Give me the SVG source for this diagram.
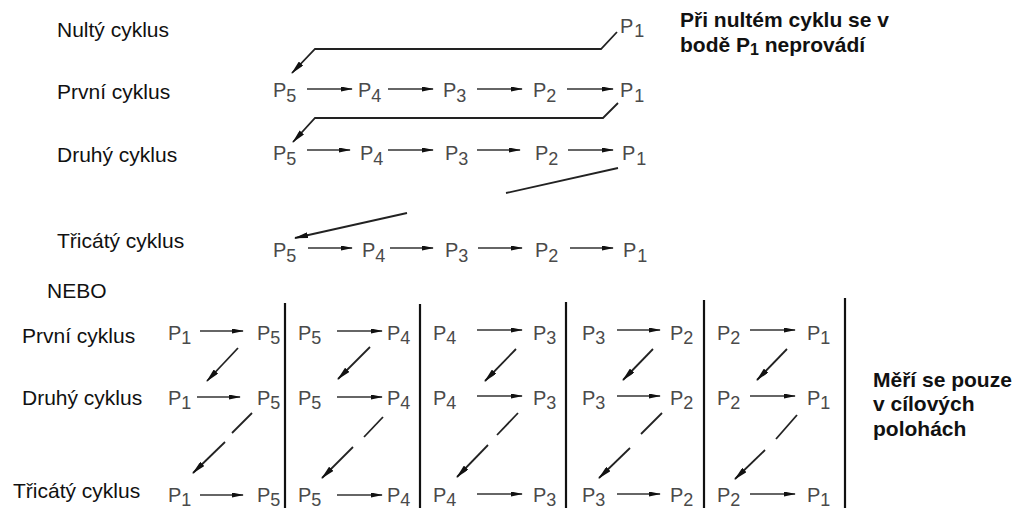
<svg xmlns="http://www.w3.org/2000/svg" width="1016" height="508" viewBox="0 0 1016 508">
<style>
.lbl{font-family:"Liberation Sans",Arial,sans-serif;font-size:21px;fill:#111}
.bold{font-family:"Liberation Sans",Arial,sans-serif;font-size:21px;font-weight:bold;fill:#111}
.p{font-family:"Liberation Sans",Arial,sans-serif;font-size:20px;fill:#4a4a4a}
.s{font-size:18px}
.ln{fill:none;stroke:#222;stroke-width:1.8}
.ar{fill:none;stroke:#333;stroke-width:1.4;marker-end:url(#ah)}
.arT{fill:none;stroke:#222;stroke-width:1.8;marker-end:url(#ah2)}
.vl{stroke:#111;stroke-width:2.2}
</style>
<defs>
<marker id="ah" viewBox="0 0 12 5" refX="11" refY="2.5" markerWidth="12" markerHeight="5" markerUnits="userSpaceOnUse" orient="auto">
<path d="M0,0 L12,2.5 L0,5 z" fill="#111"/>
</marker>
<marker id="ah2" viewBox="0 0 14 6" refX="13" refY="3" markerWidth="14" markerHeight="6" markerUnits="userSpaceOnUse" orient="auto">
<path d="M0,0 L14,3 L0,6 z" fill="#111"/>
</marker>
</defs>

<g id="labels">
<text class="lbl" x="57" y="37">Nultý cyklus</text>
<text class="lbl" x="57" y="99">První cyklus</text>
<text class="lbl" x="57" y="162">Druhý cyklus</text>
<text class="lbl" x="57" y="248">Třicátý cyklus</text>
<text class="lbl" x="47" y="298">NEBO</text>
<text class="lbl" x="22" y="343">První cyklus</text>
<text class="lbl" x="22" y="405">Druhý cyklus</text>
<text class="lbl" x="13" y="498">Třicátý cyklus</text>
</g>

<g id="note-top">
<text class="bold" x="680" y="27">Při nultém cyklu se v</text>
<text class="bold" x="680" y="52">bodě P<tspan font-size="16" dy="3">1</tspan><tspan dy="-3"> neprovádí</tspan></text>
</g>
<g id="note-bottom">
<text class="bold" x="873" y="387">Měří se pouze</text>
<text class="bold" x="873" y="411">v cílových</text>
<text class="bold" x="873" y="436">polohách</text>
</g>

<g id="top-nodes">
<g id="n0-P1"><text class="p" x="620" y="33">P<tspan class="s" dx="1" dy="4">1</tspan></text></g>
<g id="n1-P5"><text class="p" x="273" y="97">P<tspan class="s" dy="5">5</tspan></text></g>
<g id="n1-P4"><text class="p" x="358" y="97">P<tspan class="s" dy="5">4</tspan></text></g>
<g id="n1-P3"><text class="p" x="443" y="97">P<tspan class="s" dy="5">3</tspan></text></g>
<g id="n1-P2"><text class="p" x="533" y="97">P<tspan class="s" dy="5">2</tspan></text></g>
<g id="n1-P1"><text class="p" x="620" y="97">P<tspan class="s" dx="1" dy="5">1</tspan></text></g>
<g id="n2-P5"><text class="p" x="273" y="160">P<tspan class="s" dy="5">5</tspan></text></g>
<g id="n2-P4"><text class="p" x="360" y="160">P<tspan class="s" dy="5">4</tspan></text></g>
<g id="n2-P3"><text class="p" x="445" y="160">P<tspan class="s" dy="5">3</tspan></text></g>
<g id="n2-P2"><text class="p" x="535" y="160">P<tspan class="s" dy="5">2</tspan></text></g>
<g id="n2-P1"><text class="p" x="622" y="160">P<tspan class="s" dx="1" dy="5">1</tspan></text></g>
<g id="n3-P5"><text class="p" x="273" y="257">P<tspan class="s" dy="5">5</tspan></text></g>
<g id="n3-P4"><text class="p" x="362" y="257">P<tspan class="s" dy="5">4</tspan></text></g>
<g id="n3-P3"><text class="p" x="445" y="257">P<tspan class="s" dy="5">3</tspan></text></g>
<g id="n3-P2"><text class="p" x="535" y="257">P<tspan class="s" dy="5">2</tspan></text></g>
<g id="n3-P1"><text class="p" x="623" y="257">P<tspan class="s" dx="1" dy="5">1</tspan></text></g>
</g>

<g id="bottom-nodes">
<g id="b1-c1a"><text class="p" x="168" y="340">P<tspan class="s" dy="4">1</tspan></text></g>
<g id="b1-c1b"><text class="p" x="257" y="340">P<tspan class="s" dy="4">5</tspan></text></g>
<g id="b1-c2a"><text class="p" x="298" y="340">P<tspan class="s" dy="4">5</tspan></text></g>
<g id="b1-c2b"><text class="p" x="387" y="340">P<tspan class="s" dy="4">4</tspan></text></g>
<g id="b1-c3a"><text class="p" x="433" y="340">P<tspan class="s" dy="4">4</tspan></text></g>
<g id="b1-c3b"><text class="p" x="533" y="340">P<tspan class="s" dy="4">3</tspan></text></g>
<g id="b1-c4a"><text class="p" x="582" y="340">P<tspan class="s" dy="4">3</tspan></text></g>
<g id="b1-c4b"><text class="p" x="670" y="340">P<tspan class="s" dy="4">2</tspan></text></g>
<g id="b1-c5a"><text class="p" x="717" y="340">P<tspan class="s" dy="4">2</tspan></text></g>
<g id="b1-c5b"><text class="p" x="807" y="340">P<tspan class="s" dy="4">1</tspan></text></g>

<g id="b2-c1a"><text class="p" x="168" y="405">P<tspan class="s" dy="4">1</tspan></text></g>
<g id="b2-c1b"><text class="p" x="257" y="405">P<tspan class="s" dy="4">5</tspan></text></g>
<g id="b2-c2a"><text class="p" x="298" y="405">P<tspan class="s" dy="4">5</tspan></text></g>
<g id="b2-c2b"><text class="p" x="387" y="405">P<tspan class="s" dy="4">4</tspan></text></g>
<g id="b2-c3a"><text class="p" x="433" y="405">P<tspan class="s" dy="4">4</tspan></text></g>
<g id="b2-c3b"><text class="p" x="533" y="405">P<tspan class="s" dy="4">3</tspan></text></g>
<g id="b2-c4a"><text class="p" x="582" y="405">P<tspan class="s" dy="4">3</tspan></text></g>
<g id="b2-c4b"><text class="p" x="670" y="405">P<tspan class="s" dy="4">2</tspan></text></g>
<g id="b2-c5a"><text class="p" x="717" y="405">P<tspan class="s" dy="4">2</tspan></text></g>
<g id="b2-c5b"><text class="p" x="807" y="405">P<tspan class="s" dy="4">1</tspan></text></g>

<g id="b3-c1a"><text class="p" x="168" y="502">P<tspan class="s" dy="4">1</tspan></text></g>
<g id="b3-c1b"><text class="p" x="257" y="502">P<tspan class="s" dy="4">5</tspan></text></g>
<g id="b3-c2a"><text class="p" x="298" y="502">P<tspan class="s" dy="4">5</tspan></text></g>
<g id="b3-c2b"><text class="p" x="387" y="502">P<tspan class="s" dy="4">4</tspan></text></g>
<g id="b3-c3a"><text class="p" x="433" y="502">P<tspan class="s" dy="4">4</tspan></text></g>
<g id="b3-c3b"><text class="p" x="533" y="502">P<tspan class="s" dy="4">3</tspan></text></g>
<g id="b3-c4a"><text class="p" x="582" y="502">P<tspan class="s" dy="4">3</tspan></text></g>
<g id="b3-c4b"><text class="p" x="670" y="502">P<tspan class="s" dy="4">2</tspan></text></g>
<g id="b3-c5a"><text class="p" x="717" y="502">P<tspan class="s" dy="4">2</tspan></text></g>
<g id="b3-c5b"><text class="p" x="807" y="502">P<tspan class="s" dy="4">1</tspan></text></g>
</g>

<g id="dividers">
<line class="vl" x1="285" y1="303" x2="285" y2="508"/>
<line class="vl" x1="420" y1="304" x2="420" y2="508"/>
<line class="vl" x1="566" y1="302" x2="566" y2="508"/>
<line class="vl" x1="704" y1="300" x2="704" y2="508"/>
<line class="vl" x1="845" y1="298" x2="845" y2="508"/>
</g>

<g id="connectors">
<path class="arT" d="M617,32 L601,49 L315,49 L292,73"/>
<path class="ar" d="M307,89 L352,89"/>
<path class="ar" d="M388,89 L433,89"/>
<path class="ar" d="M477,89 L522,89"/>
<path class="ar" d="M567,89 L613,89"/>
<path class="arT" d="M618,103 L603,118 L315,118 L293,142"/>
<path class="ar" d="M307,150 L350,150"/>
<path class="ar" d="M388,150 L433,150"/>
<path class="ar" d="M477,150 L520,150"/>
<path class="ar" d="M568,150 L613,150"/>
<path class="ln" d="M618,168 L506,193"/>
<path class="arT" d="M407,213 L295,238"/>
<path class="ar" d="M308,248 L352,248"/>
<path class="ar" d="M390,248 L433,248"/>
<path class="ar" d="M478,248 L522,248"/>
<path class="ar" d="M570,248 L613,248"/>
<path class="ar" d="M200,331 L243,331"/>
<path class="ar" d="M337,331 L382,331"/>
<path class="ar" d="M477,330 L522,330"/>
<path class="ar" d="M617,330 L660,330"/>
<path class="ar" d="M750,330 L795,330"/>
<path class="ar" d="M197,397 L240,397"/>
<path class="ar" d="M337,397 L382,397"/>
<path class="ar" d="M477,396 L522,396"/>
<path class="ar" d="M617,396 L660,396"/>
<path class="ar" d="M750,396 L795,396"/>
<path class="ar" d="M200,495 L243,495"/>
<path class="ar" d="M337,495 L382,495"/>
<path class="ar" d="M477,494 L522,494"/>
<path class="ar" d="M617,494 L660,494"/>
<path class="ar" d="M750,494 L795,494"/>
<path class="arT" d="M238,348 L207,381"/>
<path class="arT" d="M370,347 L338,379"/>
<path class="arT" d="M516,349 L485,381"/>
<path class="arT" d="M653,349 L623,380"/>
<path class="arT" d="M787,349 L757,380"/>
<path class="ln" d="M252,413 L232,433"/>
<path class="arT" d="M225,442 L193,473"/>
<path class="ln" d="M383,417 L364,437"/>
<path class="arT" d="M353,447 L322,478"/>
<path class="ln" d="M518,413 L497,435"/>
<path class="arT" d="M488,445 L457,477"/>
<path class="ln" d="M662,413 L641,434"/>
<path class="arT" d="M630,448 L599,478"/>
<path class="ln" d="M797,415 L776,439"/>
<path class="arT" d="M765,450 L735,479"/>
</g>
</svg>
